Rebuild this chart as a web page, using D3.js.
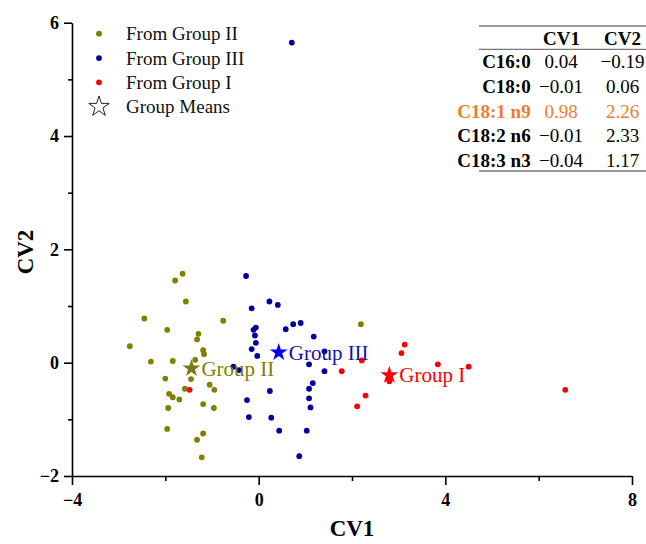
<!DOCTYPE html>
<html>
<head>
<meta charset="utf-8">
<script src="https://cdn.jsdelivr.net/npm/d3@7"></script>
<style>
    body { margin: 0; background: #fff; }
    svg { font-family: "Liberation Serif", "Times New Roman", serif; }
</style>
</head>
<body>
<div id="chart"></div>
<script>

// canonical scores: [CV1, CV2]
let groupII = [
    [-1.63, 1.57], [-1.79, 1.45], [-1.56, 1.08], [-2.45, 0.78], [-0.76, 0.74],
    [-1.96, 0.58], [-1.29, 0.51], [-1.32, 0.41], [-2.76, 0.29], [-1.19, 0.22],
    [-1.17, 0.15], [-2.31, 0.02], [-1.84, 0.03], [-1.36, 0.05], [-2.00, -0.28],
    [-1.45, -0.29], [-1.58, -0.46], [-1.05, -0.39], [-0.95, -0.48], [-1.92, -0.55],
    [-1.84, -0.61], [-1.70, -0.65], [-1.19, -0.73], [-1.94, -0.80], [-0.96, -0.80],
    [-1.96, -1.17], [-1.19, -1.25], [-1.32, -1.36], [-1.22, -1.67], [2.19, 0.68]
];

let groupIII = [
    [0.71, 5.65], [-0.27, 1.53], [0.23, 1.08], [0.41, 1.02], [-0.15, 0.96],
    [-0.06, 0.62], [-0.11, 0.58], [-0.08, 0.48], [-0.06, 0.35], [-0.15, 0.24],
    [-0.03, 0.12], [0.58, 0.59], [0.74, 0.68], [0.90, 0.70], [1.18, 0.46],
    [1.41, 0.20], [1.08, -0.03], [1.41, -0.15], [-0.54, -0.07], [-0.42, -0.13],
    [0.24, -0.50], [1.16, -0.36], [1.08, -0.46], [-0.25, -0.66], [1.08, -0.63],
    [1.11, -0.79], [-0.21, -0.96], [0.27, -0.97], [0.44, -1.20], [1.03, -1.20],
    [0.87, -1.65]
];

let groupI = [
    [-1.48, -0.48], [1.78, -0.15], [2.21, 0.04], [2.29, -0.58], [2.11, -0.77],
    [3.13, 0.32], [3.06, 0.17], [3.84, -0.03], [4.50, -0.07], [2.80, -0.33],
    [6.57, -0.48]
];

let groupMeans = [
    {name: "Group II", cv1: -1.44, cv2: -0.10},
    {name: "Group III", cv1: 0.43, cv2: 0.18},
    {name: "Group I", cv1: 2.80, cv2: -0.22}
];

let legendLabels = ["From Group II", "From Group III", "From Group I", "Group Means"];

// coefficient table
let tableRows = ["C16:0", "C18:0", "C18:1 n9", "C18:2 n6", "C18:3 n3"];
let tableCV1 = ["0.04", "\u22120.01", "0.98", "\u22120.01", "\u22120.04"];
let tableCV2 = ["\u22120.19", "0.06", "2.26", "2.33", "1.17"];
let highlightRow = "C18:1 n9";

let xMajor = [-4, 0, 4, 8];
let xMinor = [-2, 2, 6];
let yMajor = [-2, 0, 2, 4, 6];
let yMinor = [-1, 1, 3, 5];

let colors = {
    "Group II": "#808000",
    "Group III": "#00009f",
    "Group I": "#ff0000"
};
let starColors = {
    "Group II": "#7a7a10",
    "Group III": "#0000ff",
    "Group I": "#ff0000"
};
let labelColors = {
    "Group II": "#808000",
    "Group III": "#1212a8",
    "Group I": "#ff0000"
};

let svg = d3.select("#chart").append("svg")
    .attr("width", 646)
    .attr("height", 544);

let x = d3.scaleLinear().domain([-4, 8]).range([72, 632]);
let y = d3.scaleLinear().domain([-2, 6]).range([476, 22.7]);

// axes
svg.append("g")
    .attr("transform", "translate(0," + y(-2) + ")")
    .call(d3.axisBottom(x).tickValues(xMajor).tickSize(9).tickSizeOuter(0).tickPadding(8));
svg.append("g")
    .attr("transform", "translate(0," + y(-2) + ")")
    .call(d3.axisBottom(x).tickValues(xMinor).tickSize(5).tickFormat(""))
    .select(".domain").remove();

svg.append("g")
    .attr("transform", "translate(" + x(-4) + ",0)")
    .call(d3.axisLeft(y).tickValues(yMajor).tickSize(8).tickSizeOuter(0).tickPadding(5));
svg.append("g")
    .attr("transform", "translate(" + x(-4) + ",0)")
    .call(d3.axisLeft(y).tickValues(yMinor).tickSize(4).tickFormat(""))
    .select(".domain").remove();

svg.selectAll(".domain, .tick line")
    .attr("stroke", "#000")
    .attr("stroke-width", 1.6);

svg.selectAll(".tick text")
    .attr("font-family", "Liberation Serif, serif")
    .attr("font-size", 18)
    .attr("font-weight", "bold")
    .attr("fill", "#000");

// axis titles
svg.append("text")
    .attr("x", 352)
    .attr("y", 536)
    .attr("text-anchor", "middle")
    .attr("font-size", 23)
    .attr("font-weight", "bold")
    .text("CV1");

svg.append("text")
    .attr("transform", "translate(33,252) rotate(-90)")
    .attr("text-anchor", "middle")
    .attr("font-size", 23)
    .attr("font-weight", "bold")
    .text("CV2");

// points
let groups = [
    {name: "Group II", data: groupII},
    {name: "Group III", data: groupIII},
    {name: "Group I", data: groupI}
];

groups.forEach(function (g) {
    svg.append("g")
        .selectAll("circle")
        .data(g.data)
        .enter()
        .append("circle")
        .attr("cx", d => x(d[0]))
        .attr("cy", d => y(d[1]))
        .attr("r", 2.9)
        .attr("fill", colors[g.name]);
});

// group means
svg.selectAll(".mean")
    .data(groupMeans)
    .enter()
    .append("path")
    .attr("class", "mean")
    .attr("d", d3.symbol().type(d3.symbolStar).size(100))
    .attr("transform", d => "translate(" + x(d.cv1) + "," + y(d.cv2) + ")")
    .attr("fill", d => starColors[d.name]);

svg.selectAll(".meanLabel")
    .data(groupMeans)
    .enter()
    .append("text")
    .attr("class", "meanLabel")
    .attr("x", d => x(d.cv1) + 10)
    .attr("y", d => y(d.cv2))
    .attr("dy", "0.35em")
    .attr("font-size", 21)
    .attr("fill", d => labelColors[d.name])
    .text(d => d.name);

// legend
let legend = svg.append("g");
let legendY = d3.scalePoint().domain(legendLabels).range([33.7, 106.7]);

legend.selectAll("circle")
    .data(legendLabels.slice(0, 3))
    .enter()
    .append("circle")
    .attr("cx", 99)
    .attr("cy", d => legendY(d))
    .attr("r", 2.9)
    .attr("fill", (d, i) => colors[groups[i].name]);

legend.append("path")
    .attr("d", d3.symbol().type(d3.symbolStar).size(130))
    .attr("transform", "translate(99," + legendY("Group Means") + ")")
    .attr("fill", "none")
    .attr("stroke", "#222")
    .attr("stroke-width", 1);

legend.selectAll("text")
    .data(legendLabels)
    .enter()
    .append("text")
    .attr("x", 126)
    .attr("y", d => legendY(d))
    .attr("dy", "0.35em")
    .attr("font-size", 19)
    .attr("fill", "#111")
    .text(d => d);

// table
let table = svg.append("g");
let rowY = d3.scalePoint().domain(tableRows).range([68.3, 166.7]);

[26, 49.3, 171].forEach(function (ly) {
    table.append("line")
        .attr("x1", 479)
        .attr("x2", 646)
        .attr("y1", ly)
        .attr("y2", ly)
        .attr("stroke", "#777")
        .attr("stroke-width", ly === 49.3 ? 1.2 : 1.6);
});

table.selectAll(".head")
    .data(["CV1", "CV2"])
    .enter()
    .append("text")
    .attr("x", (d, i) => i === 0 ? 561.5 : 622.5)
    .attr("y", 45)
    .attr("text-anchor", "middle")
    .attr("font-size", 19)
    .attr("font-weight", "bold")
    .text(d => d);

table.selectAll(".rowLabel")
    .data(tableRows)
    .enter()
    .append("text")
    .attr("x", 530.7)
    .attr("y", d => rowY(d))
    .attr("text-anchor", "end")
    .attr("font-size", 19)
    .attr("font-weight", "bold")
    .attr("fill", d => d === highlightRow ? "#ed7d31" : "#000")
    .text(d => d);

table.selectAll(".cv1")
    .data(tableCV1)
    .enter()
    .append("text")
    .attr("x", 561)
    .attr("y", (d, i) => rowY(tableRows[i]))
    .attr("text-anchor", "middle")
    .attr("font-size", 19)
    .attr("fill", (d, i) => tableRows[i] === highlightRow ? "#ed7d31" : "#000")
    .text(d => d);

table.selectAll(".cv2")
    .data(tableCV2)
    .enter()
    .append("text")
    .attr("x", 622.5)
    .attr("y", (d, i) => rowY(tableRows[i]))
    .attr("text-anchor", "middle")
    .attr("font-size", 19)
    .attr("fill", (d, i) => tableRows[i] === highlightRow ? "#ed7d31" : "#000")
    .text(d => d);

</script>
</body>
</html>
